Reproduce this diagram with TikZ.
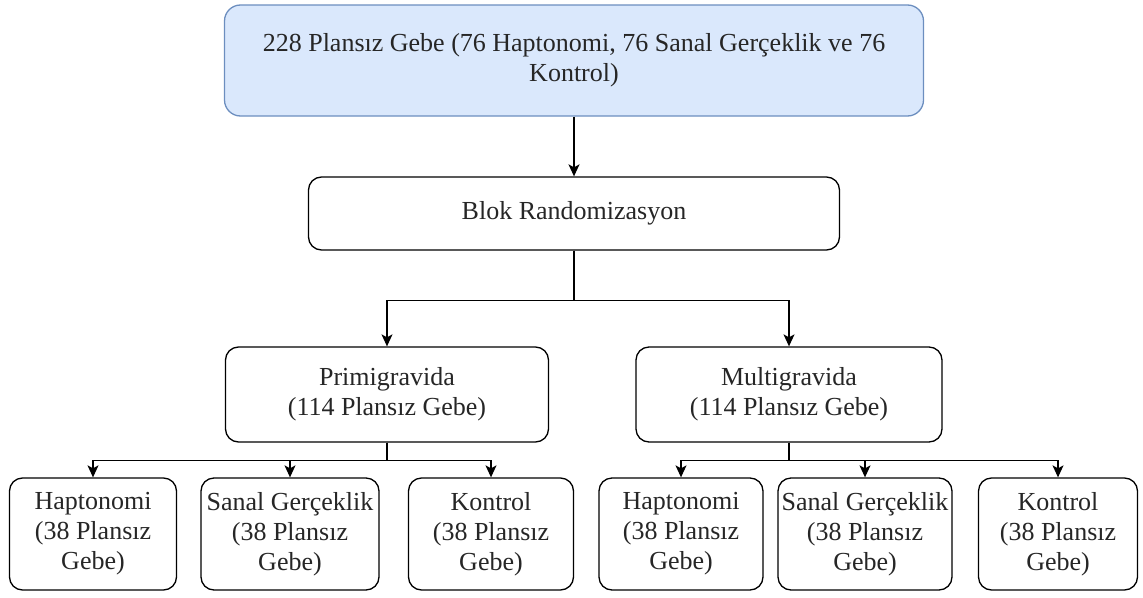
\documentclass[tikz,border=0pt]{standalone}
\usepackage{fontspec}
\setmainfont{Liberation Serif}
\usetikzlibrary{arrows.meta}
\definecolor{topfill}{RGB}{218,232,252}
\definecolor{topline}{RGB}{108,142,191}
\tikzset{
  flowbox/.style={draw=black,line width=1.3pt,rounded corners=13pt,rectangle,
    inner sep=0pt,align=center,text=black!85,font=\fontsize{26}{30}\selectfont},
  topbox/.style={flowbox,draw=topline,fill=topfill,rounded corners=16pt},
  arr/.style={line width=1.3pt,-{Stealth[length=12pt,width=11pt,inset=3pt]}}
}
\begin{document}
\begin{tikzpicture}[x=1pt,y=-1pt]
  \useasboundingbox (0,0) rectangle (1143,597);
  % levels
  \node[topbox,minimum width=699,minimum height=111] (all) at (574,60.5)
    {228 Plansız Gebe (76 Haptonomi, 76 Sanal Gerçeklik ve 76\\Kontrol)};
  \node[flowbox,minimum width=531,minimum height=73] (blok) at (574,213.5) {Blok Randomizasyon};
  \node[flowbox,minimum width=323,minimum height=95] (prim) at (387,394.5)
    {Primigravida\\(114 Plansız Gebe)};
  \node[flowbox,minimum width=306,minimum height=95] (multi) at (789,394.5)
    {Multigravida\\(114 Plansız Gebe)};
  % groups
  \node[flowbox,minimum width=167,minimum height=112] (hap1) at (93,534) {Haptonomi\\(38 Plansız\\Gebe)};
  \node[flowbox,minimum width=178,minimum height=112] (san1) at (290,534) {Sanal Gerçeklik\\(38 Plansız\\Gebe)};
  \node[flowbox,minimum width=165,minimum height=112] (kon1) at (491,534) {Kontrol\\(38 Plansız\\Gebe)};
  \node[flowbox,minimum width=164,minimum height=112] (hap2) at (681,534) {Haptonomi\\(38 Plansız\\Gebe)};
  \node[flowbox,minimum width=174,minimum height=112] (san2) at (865,534) {Sanal Gerçeklik\\(38 Plansız\\Gebe)};
  \node[flowbox,minimum width=159,minimum height=112] (kon2) at (1058,534) {Kontrol\\(38 Plansız\\Gebe)};
  \draw[arr] (all.south) -- (blok.north);
  \foreach \c in {prim,multi} \draw[arr] (blok.south) -- ++(0,50) -| (\c.north);
  \foreach \c in {hap1,san1,kon1} \draw[arr] (prim.south) -- ++(0,18) -| (\c.north);
  \foreach \c in {hap2,san2,kon2} \draw[arr] (multi.south) -- ++(0,18) -| (\c.north);
\end{tikzpicture}
\end{document}
